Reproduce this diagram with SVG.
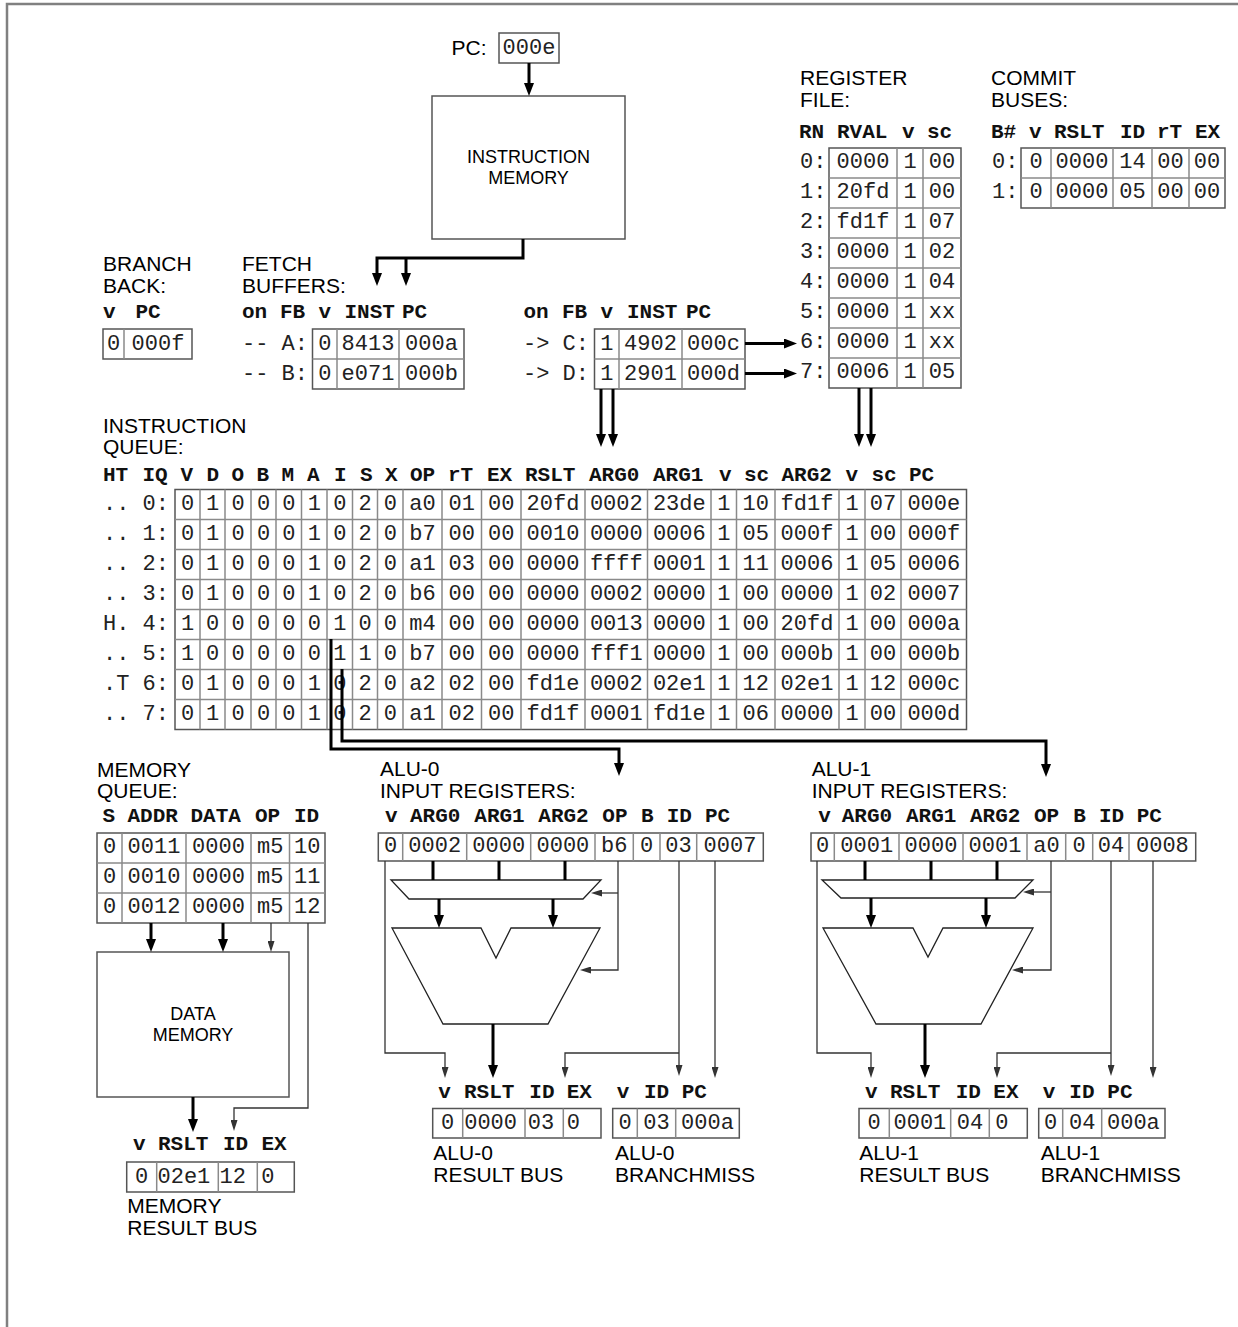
<svg xmlns="http://www.w3.org/2000/svg" width="1238" height="1327" viewBox="0 0 1238 1327">
<defs>
<style>
.lbl{font-family:"Liberation Sans",Arial,sans-serif;font-size:21px;fill:#000}
.blbl{font-family:"Liberation Sans",Arial,sans-serif;font-size:18px;fill:#000;text-anchor:middle}
.m{font-family:"Liberation Mono","Courier New",monospace;font-size:22px;fill:#222}
.h{font-family:"Liberation Mono","Courier New",monospace;font-size:21px;font-weight:bold;fill:#111}
.c{text-anchor:middle}
.tb{fill:none;stroke:#555;stroke-width:1.5}
.tl{fill:none;stroke:#8a8a8a;stroke-width:1.5}
.bx{fill:none;stroke:#555;stroke-width:1.5}
.sh{fill:none;stroke:#222;stroke-width:1.3}
.k{fill:none;stroke:#000;stroke-width:3}
.ka{fill:none;stroke:#000;stroke-width:3;marker-end:url(#ah)}
.ta{fill:none;stroke:#333;stroke-width:1.3;marker-end:url(#as)}
.frame{fill:none;stroke:#808080;stroke-width:2.5}
</style>
<marker id="ah" markerUnits="userSpaceOnUse" markerWidth="13" markerHeight="10" refX="5" refY="5" orient="auto"><path d="M0,0 L13,5 L0,10 z" fill="#000"/></marker>
<marker id="as" markerUnits="userSpaceOnUse" markerWidth="11" markerHeight="7" refX="4" refY="3.5" orient="auto"><path d="M0,0 L11,3.5 L0,7 z" fill="#333"/></marker>
</defs>
<rect x="0" y="0" width="1238" height="1327" fill="#fff"/>
<path class="frame" d="M7,1327 V4 H1238"/>

<g id="pc">
<text class="lbl" x="451.5" y="55">PC:</text>
<rect class="tb" x="499" y="33" width="60" height="30"/>
<text class="m c" x="529" y="53.5">000e</text>
</g>

<g id="instruction-memory">
<rect class="bx" x="432" y="96" width="193" height="143"/>
<text class="blbl" x="528.5" y="163.3">INSTRUCTION</text>
<text class="blbl" x="528.5" y="184.3">MEMORY</text>
</g>

<g id="register-file">
<text class="lbl" x="800" y="85">REGISTER</text>
<text class="lbl" x="800" y="106.7">FILE:</text>
<text class="h" y="137.5"><tspan x="799">RN</tspan><tspan x="837">RVAL</tspan><tspan x="902">v</tspan><tspan x="927">sc</tspan></text>
<rect class="tb" x="829" y="148" width="132" height="240"/>
<path class="tl" d="M897,148V388M923,148V388M829,178H961M829,208H961M829,238H961M829,268H961M829,298H961M829,328H961M829,358H961"/>
<text class="m" x="800"><tspan x="800" y="168">0:</tspan><tspan x="800" y="198">1:</tspan><tspan x="800" y="228">2:</tspan><tspan x="800" y="258">3:</tspan><tspan x="800" y="288">4:</tspan><tspan x="800" y="318">5:</tspan><tspan x="800" y="348">6:</tspan><tspan x="800" y="378">7:</tspan></text>
<text class="m c" y="168"><tspan x="863">0000</tspan><tspan x="910">1</tspan><tspan x="942">00</tspan></text>
<text class="m c" y="198"><tspan x="863">20fd</tspan><tspan x="910">1</tspan><tspan x="942">00</tspan></text>
<text class="m c" y="228"><tspan x="863">fd1f</tspan><tspan x="910">1</tspan><tspan x="942">07</tspan></text>
<text class="m c" y="258"><tspan x="863">0000</tspan><tspan x="910">1</tspan><tspan x="942">02</tspan></text>
<text class="m c" y="288"><tspan x="863">0000</tspan><tspan x="910">1</tspan><tspan x="942">04</tspan></text>
<text class="m c" y="318"><tspan x="863">0000</tspan><tspan x="910">1</tspan><tspan x="942">xx</tspan></text>
<text class="m c" y="348"><tspan x="863">0000</tspan><tspan x="910">1</tspan><tspan x="942">xx</tspan></text>
<text class="m c" y="378"><tspan x="863">0006</tspan><tspan x="910">1</tspan><tspan x="942">05</tspan></text>
</g>

<g id="commit-buses">
<text class="lbl" x="991" y="85">COMMIT</text>
<text class="lbl" x="991" y="106.7">BUSES:</text>
<text class="h" y="137.5"><tspan x="991">B#</tspan><tspan x="1029">v</tspan><tspan x="1054">RSLT</tspan><tspan x="1120">ID</tspan><tspan x="1157">rT</tspan><tspan x="1195">EX</tspan></text>
<rect class="tb" x="1021" y="148" width="204" height="60"/>
<path class="tl" d="M1051,148V208M1113,148V208M1152,148V208M1189,148V208M1021,178H1225"/>
<text class="m" x="992" y="168">0:</text>
<text class="m" x="992" y="198">1:</text>
<text class="m c" y="168"><tspan x="1036">0</tspan><tspan x="1082">0000</tspan><tspan x="1132.5">14</tspan><tspan x="1170.5">00</tspan><tspan x="1207">00</tspan></text>
<text class="m c" y="198"><tspan x="1036">0</tspan><tspan x="1082">0000</tspan><tspan x="1132.5">05</tspan><tspan x="1170.5">00</tspan><tspan x="1207">00</tspan></text>
</g>

<g id="branch-back">
<text class="lbl" x="103" y="271">BRANCH</text>
<text class="lbl" x="103" y="293">BACK:</text>
<text class="h" y="318"><tspan x="103">v</tspan><tspan x="135.5">PC</tspan></text>
<rect class="tb" x="103" y="329" width="89" height="30"/>
<path class="tl" d="M124,329V359"/>
<text class="m c" y="349.5"><tspan x="113.5">0</tspan><tspan x="158">000f</tspan></text>
</g>

<g id="fetch-buffers-ab">
<text class="lbl" x="242" y="271">FETCH</text>
<text class="lbl" x="242" y="293">BUFFERS:</text>
<text class="h" y="318"><tspan x="242">on</tspan><tspan x="280">FB</tspan><tspan x="318.5">v</tspan><tspan x="344.5">INST</tspan><tspan x="402">PC</tspan></text>
<rect class="tb" x="312.5" y="329" width="151.5" height="60"/>
<path class="tl" d="M337,329V389M399,329V389M312.5,359H464"/>
<text class="m" x="242" y="349.5">-- A:</text>
<text class="m" x="242" y="379.5">-- B:</text>
<text class="m c" y="349.5"><tspan x="324.8">0</tspan><tspan x="368">8413</tspan><tspan x="431.5">000a</tspan></text>
<text class="m c" y="379.5"><tspan x="324.8">0</tspan><tspan x="368">e071</tspan><tspan x="431.5">000b</tspan></text>
</g>

<g id="fetch-buffers-cd">
<text class="h" y="318"><tspan x="523.5">on</tspan><tspan x="562">FB</tspan><tspan x="600.5">v</tspan><tspan x="627">INST</tspan><tspan x="686">PC</tspan></text>
<rect class="tb" x="594.5" y="329" width="150.5" height="60"/>
<path class="tl" d="M619,329V389M682,329V389M594.5,359H745"/>
<text class="m" x="523" y="349.5">-&gt; C:</text>
<text class="m" x="523" y="379.5">-&gt; D:</text>
<text class="m c" y="349.5"><tspan x="606.8">1</tspan><tspan x="650.5">4902</tspan><tspan x="713.5">000c</tspan></text>
<text class="m c" y="379.5"><tspan x="606.8">1</tspan><tspan x="650.5">2901</tspan><tspan x="713.5">000d</tspan></text>
</g>

<g id="instruction-queue">
<text class="lbl" x="103" y="432.7">INSTRUCTION</text>
<text class="lbl" x="103" y="454.3">QUEUE:</text>
<text class="h" y="481"><tspan x="103">HT</tspan><tspan x="142.5">IQ</tspan><tspan x="180.5">V</tspan><tspan x="206.5">D</tspan><tspan x="231.5">O</tspan><tspan x="256.5">B</tspan><tspan x="281.5">M</tspan><tspan x="307">A</tspan><tspan x="334">I</tspan><tspan x="360">S</tspan><tspan x="385">X</tspan><tspan x="410">OP</tspan><tspan x="448">rT</tspan><tspan x="487">EX</tspan><tspan x="525">RSLT</tspan><tspan x="589">ARG0</tspan><tspan x="653">ARG1</tspan><tspan x="719">v</tspan><tspan x="744">sc</tspan><tspan x="781.5">ARG2</tspan><tspan x="845.5">v</tspan><tspan x="871.5">sc</tspan><tspan x="909">PC</tspan></text>
<rect class="tb" x="175" y="489.5" width="791.5" height="240"/>
<path class="tl" d="M200,489.5V729.5M225,489.5V729.5M251,489.5V729.5M276,489.5V729.5M301.5,489.5V729.5M327,489.5V729.5M352.5,489.5V729.5M377.5,489.5V729.5M403,489.5V729.5M442,489.5V729.5M481.5,489.5V729.5M521,489.5V729.5M585,489.5V729.5M647.5,489.5V729.5M711,489.5V729.5M736.5,489.5V729.5M775,489.5V729.5M839,489.5V729.5M865,489.5V729.5M901,489.5V729.5M175,519.5H966.5M175,549.5H966.5M175,579.5H966.5M175,609.5H966.5M175,639.5H966.5M175,669.5H966.5M175,699.5H966.5"/>
<text class="m"><tspan x="103" y="510">.. 0:</tspan><tspan x="103" y="540">.. 1:</tspan><tspan x="103" y="570">.. 2:</tspan><tspan x="103" y="600">.. 3:</tspan><tspan x="103" y="630">H. 4:</tspan><tspan x="103" y="660">.. 5:</tspan><tspan x="103" y="690">.T 6:</tspan><tspan x="103" y="720">.. 7:</tspan></text>
<text class="m c" y="510"><tspan x="187.5">0</tspan><tspan x="212.5">1</tspan><tspan x="238">0</tspan><tspan x="263.5">0</tspan><tspan x="288.8">0</tspan><tspan x="314.3">1</tspan><tspan x="339.8">0</tspan><tspan x="365">2</tspan><tspan x="390.3">0</tspan><tspan x="422.5">a0</tspan><tspan x="461.8">01</tspan><tspan x="501.3">00</tspan><tspan x="553">20fd</tspan><tspan x="616.3">0002</tspan><tspan x="679.3">23de</tspan><tspan x="723.8">1</tspan><tspan x="755.8">10</tspan><tspan x="807">fd1f</tspan><tspan x="852">1</tspan><tspan x="883">07</tspan><tspan x="933.8">000e</tspan></text>
<text class="m c" y="540"><tspan x="187.5">0</tspan><tspan x="212.5">1</tspan><tspan x="238">0</tspan><tspan x="263.5">0</tspan><tspan x="288.8">0</tspan><tspan x="314.3">1</tspan><tspan x="339.8">0</tspan><tspan x="365">2</tspan><tspan x="390.3">0</tspan><tspan x="422.5">b7</tspan><tspan x="461.8">00</tspan><tspan x="501.3">00</tspan><tspan x="553">0010</tspan><tspan x="616.3">0000</tspan><tspan x="679.3">0006</tspan><tspan x="723.8">1</tspan><tspan x="755.8">05</tspan><tspan x="807">000f</tspan><tspan x="852">1</tspan><tspan x="883">00</tspan><tspan x="933.8">000f</tspan></text>
<text class="m c" y="570"><tspan x="187.5">0</tspan><tspan x="212.5">1</tspan><tspan x="238">0</tspan><tspan x="263.5">0</tspan><tspan x="288.8">0</tspan><tspan x="314.3">1</tspan><tspan x="339.8">0</tspan><tspan x="365">2</tspan><tspan x="390.3">0</tspan><tspan x="422.5">a1</tspan><tspan x="461.8">03</tspan><tspan x="501.3">00</tspan><tspan x="553">0000</tspan><tspan x="616.3">ffff</tspan><tspan x="679.3">0001</tspan><tspan x="723.8">1</tspan><tspan x="755.8">11</tspan><tspan x="807">0006</tspan><tspan x="852">1</tspan><tspan x="883">05</tspan><tspan x="933.8">0006</tspan></text>
<text class="m c" y="600"><tspan x="187.5">0</tspan><tspan x="212.5">1</tspan><tspan x="238">0</tspan><tspan x="263.5">0</tspan><tspan x="288.8">0</tspan><tspan x="314.3">1</tspan><tspan x="339.8">0</tspan><tspan x="365">2</tspan><tspan x="390.3">0</tspan><tspan x="422.5">b6</tspan><tspan x="461.8">00</tspan><tspan x="501.3">00</tspan><tspan x="553">0000</tspan><tspan x="616.3">0002</tspan><tspan x="679.3">0000</tspan><tspan x="723.8">1</tspan><tspan x="755.8">00</tspan><tspan x="807">0000</tspan><tspan x="852">1</tspan><tspan x="883">02</tspan><tspan x="933.8">0007</tspan></text>
<text class="m c" y="630"><tspan x="187.5">1</tspan><tspan x="212.5">0</tspan><tspan x="238">0</tspan><tspan x="263.5">0</tspan><tspan x="288.8">0</tspan><tspan x="314.3">0</tspan><tspan x="339.8">1</tspan><tspan x="365">0</tspan><tspan x="390.3">0</tspan><tspan x="422.5">m4</tspan><tspan x="461.8">00</tspan><tspan x="501.3">00</tspan><tspan x="553">0000</tspan><tspan x="616.3">0013</tspan><tspan x="679.3">0000</tspan><tspan x="723.8">1</tspan><tspan x="755.8">00</tspan><tspan x="807">20fd</tspan><tspan x="852">1</tspan><tspan x="883">00</tspan><tspan x="933.8">000a</tspan></text>
<text class="m c" y="660"><tspan x="187.5">1</tspan><tspan x="212.5">0</tspan><tspan x="238">0</tspan><tspan x="263.5">0</tspan><tspan x="288.8">0</tspan><tspan x="314.3">0</tspan><tspan x="339.8">1</tspan><tspan x="365">1</tspan><tspan x="390.3">0</tspan><tspan x="422.5">b7</tspan><tspan x="461.8">00</tspan><tspan x="501.3">00</tspan><tspan x="553">0000</tspan><tspan x="616.3">fff1</tspan><tspan x="679.3">0000</tspan><tspan x="723.8">1</tspan><tspan x="755.8">00</tspan><tspan x="807">000b</tspan><tspan x="852">1</tspan><tspan x="883">00</tspan><tspan x="933.8">000b</tspan></text>
<text class="m c" y="690"><tspan x="187.5">0</tspan><tspan x="212.5">1</tspan><tspan x="238">0</tspan><tspan x="263.5">0</tspan><tspan x="288.8">0</tspan><tspan x="314.3">1</tspan><tspan x="339.8">0</tspan><tspan x="365">2</tspan><tspan x="390.3">0</tspan><tspan x="422.5">a2</tspan><tspan x="461.8">02</tspan><tspan x="501.3">00</tspan><tspan x="553">fd1e</tspan><tspan x="616.3">0002</tspan><tspan x="679.3">02e1</tspan><tspan x="723.8">1</tspan><tspan x="755.8">12</tspan><tspan x="807">02e1</tspan><tspan x="852">1</tspan><tspan x="883">12</tspan><tspan x="933.8">000c</tspan></text>
<text class="m c" y="720"><tspan x="187.5">0</tspan><tspan x="212.5">1</tspan><tspan x="238">0</tspan><tspan x="263.5">0</tspan><tspan x="288.8">0</tspan><tspan x="314.3">1</tspan><tspan x="339.8">0</tspan><tspan x="365">2</tspan><tspan x="390.3">0</tspan><tspan x="422.5">a1</tspan><tspan x="461.8">02</tspan><tspan x="501.3">00</tspan><tspan x="553">fd1f</tspan><tspan x="616.3">0001</tspan><tspan x="679.3">fd1e</tspan><tspan x="723.8">1</tspan><tspan x="755.8">06</tspan><tspan x="807">0000</tspan><tspan x="852">1</tspan><tspan x="883">00</tspan><tspan x="933.8">000d</tspan></text>
</g>

<g id="memory-queue">
<text class="lbl" x="97" y="776.7">MEMORY</text>
<text class="lbl" x="97" y="797.7">QUEUE:</text>
<text class="h" y="821.5"><tspan x="102.5">S</tspan><tspan x="127.5">ADDR</tspan><tspan x="190.5">DATA</tspan><tspan x="255">OP</tspan><tspan x="294">ID</tspan></text>
<rect class="tb" x="97" y="833" width="228" height="90"/>
<path class="tl" d="M122,833V923M186,833V923M251,833V923M289.5,833V923M97,863H325M97,893H325"/>
<text class="m c" y="852.5"><tspan x="109.5">0</tspan><tspan x="154">0011</tspan><tspan x="218.5">0000</tspan><tspan x="270.3">m5</tspan><tspan x="307.3">10</tspan></text>
<text class="m c" y="882.5"><tspan x="109.5">0</tspan><tspan x="154">0010</tspan><tspan x="218.5">0000</tspan><tspan x="270.3">m5</tspan><tspan x="307.3">11</tspan></text>
<text class="m c" y="912.5"><tspan x="109.5">0</tspan><tspan x="154">0012</tspan><tspan x="218.5">0000</tspan><tspan x="270.3">m5</tspan><tspan x="307.3">12</tspan></text>
</g>

<g id="data-memory">
<rect class="bx" x="97" y="952" width="192" height="145"/>
<text class="blbl" x="193" y="1020">DATA</text>
<text class="blbl" x="193" y="1041">MEMORY</text>
</g>

<g id="memory-result-bus">
<text class="h" y="1150"><tspan x="133">v</tspan><tspan x="158">RSLT</tspan><tspan x="223">ID</tspan><tspan x="261.5">EX</tspan></text>
<rect class="tb" x="126.7" y="1162" width="167.6" height="30"/>
<path class="tl" d="M156.7,1162V1192M218.3,1162V1192M257.3,1162V1192"/>
<text class="m c" x="141.7" y="1182.5">0</text>
<text class="m" y="1182.5"><tspan x="157.5">02e1</tspan><tspan x="219.5">12</tspan><tspan x="261.2">0</tspan></text>
<text class="lbl" x="127.3" y="1213.3">MEMORY</text>
<text class="lbl" x="127.3" y="1235">RESULT BUS</text>
</g>

<g id="alu0-input-registers">
<text class="lbl" x="380" y="776">ALU-0</text>
<text class="lbl" x="380" y="797.7">INPUT REGISTERS:</text>
<text class="h" y="821.5"><tspan x="385">v</tspan><tspan x="410">ARG0</tspan><tspan x="474.3">ARG1</tspan><tspan x="538.3">ARG2</tspan><tspan x="602.3">OP</tspan><tspan x="641">B</tspan><tspan x="666.7">ID</tspan><tspan x="705">PC</tspan></text>
<rect class="tb" x="378.3" y="833" width="385" height="28"/>
<path class="tl" d="M402.7,833V861M466.7,833V861M530.7,833V861M595,833V861M633.3,833V861M660,833V861M696.7,833V861"/>
<text class="m c" y="851.5"><tspan x="390.5">0</tspan><tspan x="434.7">0002</tspan><tspan x="498.7">0000</tspan><tspan x="562.9">0000</tspan><tspan x="614.2">b6</tspan><tspan x="646.7">0</tspan><tspan x="678.4">03</tspan><tspan x="730">0007</tspan></text>
</g>

<g id="alu0-unit">
<polygon class="sh" points="391,880 601,880 583,899 409,899"/>
<polygon class="sh" points="392,928 481,928 496,958 511,928 600,928 548,1024 443,1024"/>
</g>

<g id="alu0-result-bus">
<text class="h" y="1098.3"><tspan x="438.3">v</tspan><tspan x="464">RSLT</tspan><tspan x="529.3">ID</tspan><tspan x="566.7">EX</tspan></text>
<rect class="tb" x="432.7" y="1108.5" width="168.3" height="29.5"/>
<path class="tl" d="M462.7,1108.5V1138M525,1108.5V1138M563.3,1108.5V1138"/>
<text class="m c" x="447.7" y="1128.5">0</text>
<text class="m" y="1128.5"><tspan x="464.2">0000</tspan><tspan x="527.8">03</tspan><tspan x="566.8">0</tspan></text>
<text class="lbl" x="433.3" y="1160">ALU-0</text>
<text class="lbl" x="433.3" y="1181.7">RESULT BUS</text>
</g>

<g id="alu0-branchmiss">
<text class="h" y="1098.3"><tspan x="616.7">v</tspan><tspan x="644">ID</tspan><tspan x="681.7">PC</tspan></text>
<rect class="tb" x="612.7" y="1108.5" width="126.6" height="29.5"/>
<path class="tl" d="M637.3,1108.5V1138M675.7,1108.5V1138"/>
<text class="m c" y="1128.5"><tspan x="625">0</tspan><tspan x="656.5">03</tspan><tspan x="707.5">000a</tspan></text>
<text class="lbl" x="615" y="1160">ALU-0</text>
<text class="lbl" x="615" y="1181.7">BRANCHMISS</text>
</g>

<g id="alu1-input-registers">
<text class="lbl" x="811.7" y="776">ALU-1</text>
<text class="lbl" x="811.7" y="797.7">INPUT REGISTERS:</text>
<text class="h" y="821.5"><tspan x="818.3">v</tspan><tspan x="841.7">ARG0</tspan><tspan x="906">ARG1</tspan><tspan x="970">ARG2</tspan><tspan x="1034">OP</tspan><tspan x="1073.3">B</tspan><tspan x="1099">ID</tspan><tspan x="1136.7">PC</tspan></text>
<rect class="tb" x="811" y="833" width="384.7" height="28"/>
<path class="tl" d="M834.3,833V861M899,833V861M963,833V861M1027,833V861M1065.7,833V861M1092.7,833V861M1129,833V861"/>
<text class="m c" y="851.5"><tspan x="822.7">0</tspan><tspan x="866.7">0001</tspan><tspan x="931">0000</tspan><tspan x="995">0001</tspan><tspan x="1046.4">a0</tspan><tspan x="1079.2">0</tspan><tspan x="1110.9">04</tspan><tspan x="1162.4">0008</tspan></text>
</g>

<g id="alu1-unit">
<polygon class="sh" points="822,880 1033,880 1015,898 841,898"/>
<polygon class="sh" points="823,928 913,928 928,957 943,928 1033,928 981,1024 876,1024"/>
</g>

<g id="alu1-result-bus">
<text class="h" y="1098.3"><tspan x="865">v</tspan><tspan x="890">RSLT</tspan><tspan x="955.7">ID</tspan><tspan x="993.3">EX</tspan></text>
<rect class="tb" x="859" y="1108.5" width="168.3" height="29.5"/>
<path class="tl" d="M889.3,1108.5V1138M950.7,1108.5V1138M989.3,1108.5V1138"/>
<text class="m c" x="874.2" y="1128.5">0</text>
<text class="m" y="1128.5"><tspan x="893.5">0001</tspan><tspan x="956.8">04</tspan><tspan x="995.2">0</tspan></text>
<text class="lbl" x="859.3" y="1160">ALU-1</text>
<text class="lbl" x="859.3" y="1181.7">RESULT BUS</text>
</g>

<g id="alu1-branchmiss">
<text class="h" y="1098.3"><tspan x="1042.7">v</tspan><tspan x="1069.3">ID</tspan><tspan x="1107.3">PC</tspan></text>
<rect class="tb" x="1038.7" y="1108.5" width="126.3" height="29.5"/>
<path class="tl" d="M1062.7,1108.5V1138M1101.7,1108.5V1138"/>
<text class="m c" y="1128.5"><tspan x="1050.7">0</tspan><tspan x="1082.2">04</tspan><tspan x="1133.4">000a</tspan></text>
<text class="lbl" x="1040.7" y="1160">ALU-1</text>
<text class="lbl" x="1040.7" y="1181.7">BRANCHMISS</text>
</g>

<g id="connectors">
<path class="ka" d="M529,63V88"/>
<path class="ka" d="M523,239V258H377V278"/>
<path class="ka" d="M406,258V278"/>
<path class="ka" d="M601,389V439"/>
<path class="ka" d="M613,389V439"/>
<path class="ka" d="M859,388V439"/>
<path class="ka" d="M871,388V439"/>
<path class="ka" d="M745,343.5H789"/>
<path class="ka" d="M745,373.5H789"/>
<path class="ka" d="M331,639V749H619V768"/>
<path class="ka" d="M342,669V741H1046V769"/>
<path class="ka" d="M151,923V944"/>
<path class="ka" d="M223,923V944"/>
<path class="ta" d="M271,923V945"/>
<path class="ta" d="M308,923V1108H234V1124"/>
<path class="ka" d="M193,1097V1124"/>
<path class="k" d="M433,861V880M499,861V880M565,861V880"/>
<path class="ka" d="M439,899V920"/>
<path class="ka" d="M553,899V920"/>
<path class="ta" d="M618,861V970H587"/>
<path class="ta" d="M618,893H598"/>
<path class="ka" d="M493,1024V1070"/>
<path class="ta" d="M385,861V1053H445V1071"/>
<path class="ta" d="M679,861V1069"/>
<path class="ta" d="M679,1053H565V1071"/>
<path class="ta" d="M715,861V1071"/>
<path class="k" d="M865,861V880M931,861V880M997,861V880"/>
<path class="ka" d="M871,898V920"/>
<path class="ka" d="M986,898V920"/>
<path class="ta" d="M1051,861V970H1019"/>
<path class="ta" d="M1051,892H1030"/>
<path class="ka" d="M925,1024V1070"/>
<path class="ta" d="M817,861V1053H871V1071"/>
<path class="ta" d="M1111,861V1069"/>
<path class="ta" d="M1111,1053H997V1071"/>
<path class="ta" d="M1153,861V1071"/>
</g>
</svg>
